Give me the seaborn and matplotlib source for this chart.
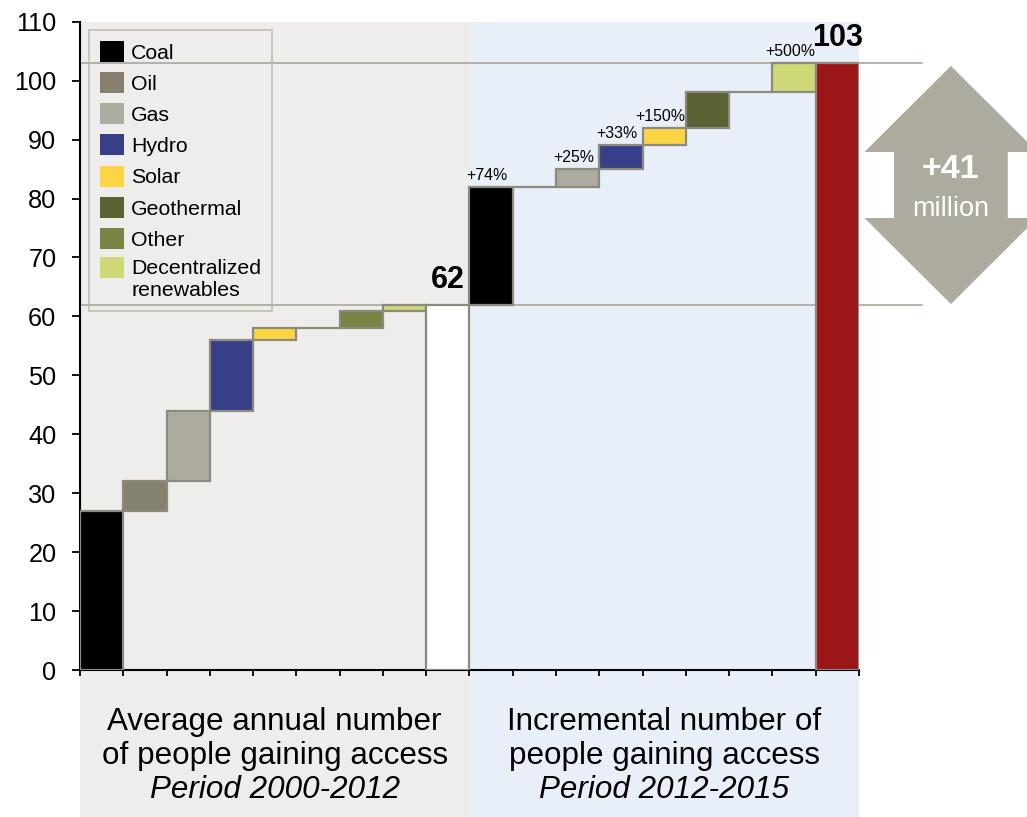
import numpy as np
import pandas as pd
import seaborn as sns
import matplotlib.pyplot as plt
import matplotlib.transforms as mtransforms
from matplotlib.patches import Patch, Polygon, Rectangle
from matplotlib.legend_handler import HandlerPatch

# data (million people gaining access to electricity, by source)
sources = ["Coal", "Oil", "Gas", "Hydro", "Solar", "Geothermal", "Other",
           "Decentralized\nrenewables"]
avg_2000_2012 = [27, 5, 12, 12, 2, 0, 3, 1]
incr_2012_2015 = [20, 0, 3, 4, 3, 6, 0, 5]
incr_pct_labels = ["+74%", "", "+25%", "+33%", "+150%", "", "", "+500%"]
source_colors = ["#000000", "#86826F", "#ADAAA0", "#363F88", "#FDD443",
                 "#5A6232", "#788443", "#CED877"]
total_colors = ["#FFFFFF", "#9B1619"]
period_labels = [
    ["Average annual number", "of people gaining access", "Period 2000-2012"],
    ["Incremental number of", "people gaining access", "Period 2012-2015"],
]
y_ticks = list(range(0, 111, 10))

sns.set_style("ticks")
plt.rcParams['font.family'] = ['Liberation Sans', 'DejaVu Sans']
for key in ["text.color", "axes.labelcolor", "xtick.color", "ytick.color"]:
    plt.rcParams[key] = "black"

n = len(sources)
total_2012 = sum(avg_2000_2012)
total_2015 = total_2012 + sum(incr_2012_2015)

steps = ([f"{s} 2000-2012" for s in sources] + ["Total 2012"]
         + [f"{s} 2012-2015" for s in sources] + ["Total 2015"])
delta = avg_2000_2012 + [total_2012] + incr_2012_2015 + [total_2015]
base = (list(np.cumsum([0] + avg_2000_2012[:-1])) + [0]
        + list(total_2012 + np.cumsum([0] + incr_2012_2015[:-1])) + [0])
colors = source_colors + [total_colors[0]] + source_colors + [total_colors[1]]
df = pd.DataFrame({"step": steps, "delta": delta, "base": base})

fig = plt.figure(figsize=(10.27, 8.17), dpi=100)
ax = fig.add_axes([0.0779, 0.1799, 0.7585, 0.7935])

# period panels (reach down under the axis to hold the captions)
ax.axvspan(-0.5, n + 0.5, ymin=-0.227, ymax=1, color="#EEEDEB", lw=0,
           zorder=0, clip_on=False)
ax.axvspan(n + 0.5, 2 * n + 1.5, ymin=-0.227, ymax=1, color="#E9EFF8", lw=0,
           zorder=0, clip_on=False)

# reference lines at both totals
for level in [total_2012, total_2015]:
    ax.axhline(level, xmin=0, xmax=1.081, color="#A9A69C", lw=1.2,
               zorder=1, clip_on=False)

sns.barplot(data=df, x="step", y="delta", order=steps, bottom=df["base"].values,
            width=1, errorbar=None, color="black", facecolor=colors,
            edgecolor="#8C897D", linewidth=1.6, zorder=3, ax=ax)

ax.set_xlim(-0.5, 2 * n + 1.5)
ax.set_ylim(0, 110)
ax.set_xticks(np.arange(-0.5, 2 * n + 2, 1))
ax.set_xticklabels([])
ax.set_yticks(y_ticks)
ax.set_xlabel("")
ax.set_ylabel("")
ax.tick_params(axis="y", direction="out", length=6, width=1.3, pad=11,
               labelsize=18.2, colors="black")
ax.tick_params(axis="x", direction="out", length=4.5, width=1.3, colors="black")
sns.despine(ax=ax)
for sp in ["left", "bottom"]:
    ax.spines[sp].set_color("black")
    ax.spines[sp].set_linewidth(1.5)

# total labels
for x, val in [(n, total_2012), (2 * n + 1, total_2015)]:
    ax.annotate(str(val), xy=(x, val), xytext=(0, 7), textcoords="offset points",
                ha="center", va="bottom", fontsize=22, fontweight="bold", zorder=5)

# growth labels
for i, lab in enumerate(incr_pct_labels):
    if lab:
        top = base[n + 1 + i] + incr_2012_2015[i]
        ax.annotate(lab, xy=(n + 1 + i, top), xytext=(-3, 3),
                    textcoords="offset points", ha="center", va="bottom",
                    fontsize=11.4, zorder=5)

# period captions under the axis
cap_trans = mtransforms.blended_transform_factory(ax.transData, ax.transAxes)
for k, lines in enumerate(period_labels):
    cx = k * (n + 1) + n / 2
    for j, line in enumerate(lines):
        ax.text(cx, -0.0926 - 0.0524 * j, line, transform=cap_trans,
                ha="center", va="baseline", fontsize=22.6,
                fontstyle="italic" if j == 2 else "normal")

# double arrow with the increase
arr_trans = mtransforms.blended_transform_factory(ax.transAxes, ax.transData)
cx, hw, sw = 1.118, 0.111, 0.073
top_tip, bot_tip = total_2015 - 0.5, total_2012 + 0.1
sh_top, sh_bot = 87.9, 76.7
pts = [(cx, top_tip), (cx + hw, sh_top), (cx + sw, sh_top), (cx + sw, sh_bot),
       (cx + hw, sh_bot), (cx, bot_tip), (cx - hw, sh_bot), (cx - sw, sh_bot),
       (cx - sw, sh_top), (cx - hw, sh_top)]
ax.add_patch(Polygon(pts, closed=True, facecolor="#ADAAA0", edgecolor="none",
                     transform=arr_trans, clip_on=False, zorder=2))
ax.text(cx, 84.9, f"+{total_2015 - total_2012}", transform=arr_trans, ha="center",
        va="center", fontsize=24.5, fontweight="bold", color="white")
ax.text(cx, 78.3, "million", transform=arr_trans, ha="center", va="center",
        fontsize=19.5, color="white")


# legend: swatch of a two-line label sits on its first line
def top_swatch(legend, orig_handle, xdescent, ydescent, width, height, fontsize):
    return Rectangle((-xdescent, -ydescent + 0.58 * fontsize), width, height)


handles = [Patch(facecolor=c, edgecolor="none") for c in source_colors]
leg = ax.legend(handles, sources, loc="upper left", bbox_to_anchor=(0.0116, 0.987),
                borderaxespad=0, fontsize=15.3, frameon=True, fancybox=False,
                handlelength=1.15, handleheight=1.15, handletextpad=0.33,
                labelspacing=0.445, borderpad=0.5,
                handler_map={handles[-1]: HandlerPatch(patch_func=top_swatch)})
leg.get_frame().set_edgecolor("#B5B2AA")
leg.get_frame().set_facecolor("none")
leg.get_frame().set_linewidth(1.2)
leg.set_zorder(6)

fig.savefig("out.png", dpi=100)
